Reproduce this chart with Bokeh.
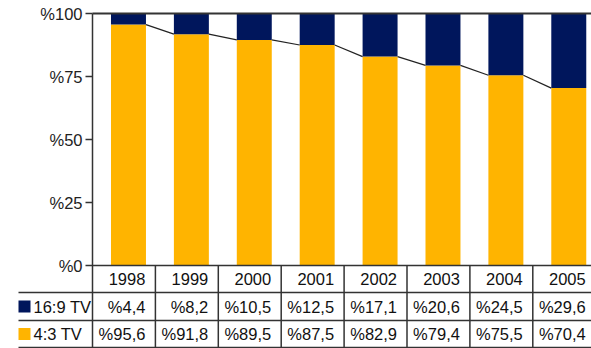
import numpy as np
from bokeh.plotting import figure
from bokeh.models import Range1d
from bokeh.core.properties import value
from bokeh.embed import file_html
from bokeh.resources import INLINE

years = ["1998", "1999", "2000", "2001", "2002", "2003", "2004", "2005"]
wide_tv = [4.4, 8.2, 10.5, 12.5, 17.1, 20.6, 24.5, 29.6]
std_tv = [95.6, 91.8, 89.5, 87.5, 82.9, 79.4, 75.5, 70.4]
series_names = ["16:9 TV", "4:3 TV"]
y_ticks = [0, 25, 50, 75, 100]
y_tick_labels = ["%0", "%25", "%50", "%75", "%100"]

NAVY = "#00165C"
ORANGE = "#FFB400"
GRID = "#333333"
FONT = value("Liberation Sans")
FS = "16.5px"

W, H = 591, 348
AX_PX, BASE_PX, TOP_PX = 92, 265, 13
COL_PX = 62.9
UNIT_PX = (BASE_PX - TOP_PX) / 100.0


def px_x(px):
    return (px - AX_PX) / COL_PX


def px_y(py):
    return (BASE_PX - py) / UNIT_PX


p = figure(width=W, height=H, output_backend="svg", toolbar_location=None,
           x_range=Range1d(px_x(0), px_x(W)), y_range=Range1d(px_y(H), px_y(0)),
           x_axis_location=None, y_axis_location=None, min_border=0)
p.grid.visible = False
p.outline_line_color = None
p.background_fill_color = "white"
p.border_fill_color = "white"

n = len(years)
xc = np.arange(n) + 0.572
bw = 0.556
std = np.array(std_tv)
wide = np.array(wide_tv)

p.vbar(x=xc, width=bw, bottom=0, top=std, fill_color=ORANGE, line_color=None)
p.vbar(x=xc, width=bw, bottom=std, top=std + wide, fill_color=NAVY, line_color=None)

# series lines
p.segment(x0=xc[:-1] + bw / 2, y0=std[:-1], x1=xc[1:] - bw / 2, y1=std[1:],
          line_color="#222222", line_width=1.2)

# table rows
row_edges = [0, px_y(292), px_y(320), px_y(347)]
row_mid = [(row_edges[i] + row_edges[i + 1]) / 2 for i in range(3)]
x_end = px_x(W + 10)
x_leg = px_x(18)

# frame lines
p.segment(x0=[0], y0=[100], x1=[x_end], y1=[100], line_color=GRID, line_width=2)
p.segment(x0=[0], y0=[100], x1=[0], y1=[row_edges[3]], line_color=GRID, line_width=1.5)
p.segment(x0=[0], y0=[0], x1=[x_end], y1=[0], line_color=GRID, line_width=1.5)
p.segment(x0=[x_leg, x_leg, x_leg], y0=row_edges[1:], x1=[x_end] * 3, y1=row_edges[1:],
          line_color=GRID, line_width=1.5)
cols = np.arange(1, n + 1)
p.segment(x0=cols, y0=[0] * n, x1=cols, y1=[row_edges[3]] * n, line_color=GRID, line_width=1.5)

# y ticks and labels
p.segment(x0=[px_x(85)] * len(y_ticks), y0=y_ticks, x1=[0] * len(y_ticks), y1=y_ticks,
          line_color=GRID, line_width=1.5)
p.text(x=[px_x(82)] * len(y_ticks), y=y_ticks, text=y_tick_labels, text_align="right",
       text_baseline="middle", text_font=FONT, text_font_size=FS, text_color="#222222")

# table text
tx = cols - 10 / COL_PX
p.text(x=tx, y=[row_mid[0]] * n, text=years, text_align="right", text_baseline="middle",
       text_font=FONT, text_font_size=FS, text_color="#111111")
fmt = lambda v: "%" + f"{v:.1f}".replace(".", ",")
p.text(x=tx, y=[row_mid[1]] * n, text=[fmt(v) for v in wide_tv], text_align="right",
       text_baseline="middle", text_font=FONT, text_font_size=FS, text_color="#111111")
p.text(x=tx, y=[row_mid[2]] * n, text=[fmt(v) for v in std_tv], text_align="right",
       text_baseline="middle", text_font=FONT, text_font_size=FS, text_color="#111111")

# legend keys and names
p.rect(x=[px_x(24)] * 2, y=row_mid[1:], width=12, height=12, width_units="screen",
       height_units="screen", fill_color=[NAVY, ORANGE], line_color=None)
p.text(x=[px_x(33)] * 2, y=row_mid[1:], text=series_names, text_align="left",
       text_baseline="middle", text_font=FONT, text_font_size=FS, text_color="#111111")

open("out.html", "w").write(file_html(p, INLINE))
